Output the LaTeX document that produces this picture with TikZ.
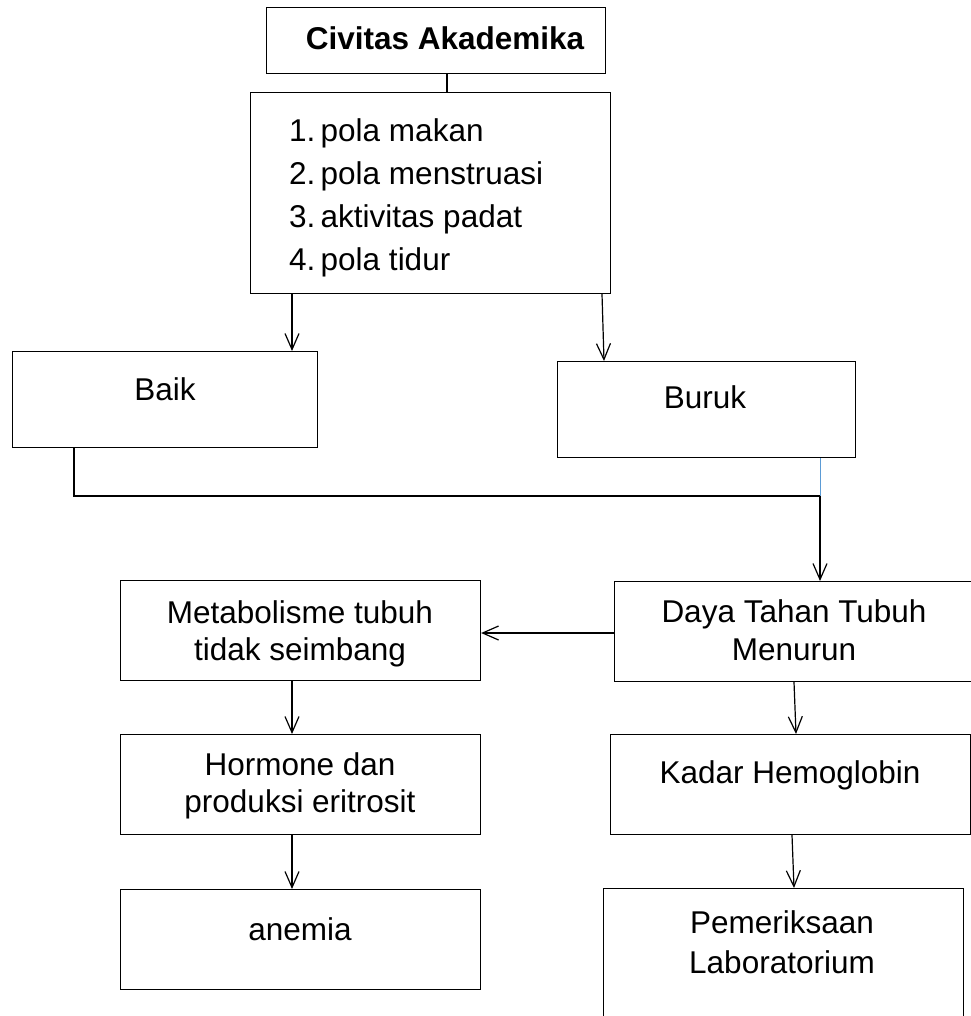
\documentclass[tikz,border=0pt]{standalone}
\usepackage{fontspec}
\setmainfont{Liberation Sans}
\usetikzlibrary{arrows.meta}
\definecolor{wordblue}{HTML}{5B9BD5}
\begin{document}
\begin{tikzpicture}[x=1pt,y=-1pt,
  box/.style={draw=black, line width=1.1pt, inner sep=0pt, anchor=north west},
  txt/.style={anchor=base, inner sep=0pt, font=\fontsize{31.5}{37}\selectfont},
  arr/.style={-{Straight Barb[length=16pt,width=14pt,line width=1.2pt]}, line width=1.2pt},
  conn/.style={line width=1.2pt}]
\useasboundingbox (0,0) rectangle (970,1016);

% boxes
\node[box, minimum width=339pt, minimum height=66pt]  (civ)    at (266,7)   {};
\node[box, minimum width=360pt, minimum height=201pt] (list)   at (250,92)  {};
\node[box, minimum width=305pt, minimum height=96pt]  (baik)   at (12,351)  {};
\node[box, minimum width=298pt, minimum height=96pt]  (buruk)  at (557,361) {};
\node[box, minimum width=360pt, minimum height=100pt] (metab)  at (120,580) {};
\node[box, minimum width=364pt, minimum height=100pt] (daya)   at (614,581) {};
\node[box, minimum width=360pt, minimum height=100pt] (horm)   at (120,734) {};
\node[box, minimum width=360pt, minimum height=100pt] (kadar)  at (610,734) {};
\node[box, minimum width=360pt, minimum height=100pt] (anemia) at (120,889) {};
\node[box, minimum width=360pt, minimum height=140pt] (pem)    at (603,888) {};

% texts
\node[txt, font=\fontsize{31.5}{37}\selectfont\bfseries] (tciv) at (445,50) {Civitas Akademika};
\node[txt, anchor=base west] (tl1) at (289,142) {1.\,pola makan};
\node[txt, anchor=base west] (tl2) at (289,185) {2.\,pola menstruasi};
\node[txt, anchor=base west] (tl3) at (289,228) {3.\,aktivitas padat};
\node[txt, anchor=base west] (tl4) at (289,270) {4.\,pola tidur};
\node[txt] (tbaik)  at (165,400) {Baik};
\node[txt] (tburuk) at (705,408) {Buruk};
\node[txt] (tm1) at (300,623) {Metabolisme tubuh};
\node[txt] (tm2) at (300,660) {tidak seimbang};
\node[txt] (td1) at (794,622) {Daya Tahan Tubuh};
\node[txt] (td2) at (794,660) {Menurun};
\node[txt] (th1) at (300,775) {Hormone dan};
\node[txt] (th2) at (300,812) {produksi eritrosit};
\node[txt] (tk)  at (790,783) {Kadar Hemoglobin};
\node[txt] (ta)  at (300,940) {anemia};
\node[txt] (tp1) at (782,933) {Pemeriksaan};
\node[txt] (tp2) at (782,973) {Laboratorium};

% connectors
\draw[conn] (447,0 |- civ.south) -- (447,0 |- list.north);
\draw[arr] (292,0 |- list.south) -- (292,0 |- baik.north);
\draw[arr] (602,0 |- list.south) -- (604,0 |- buruk.north);
\coordinate (join) at (820,496);
\coordinate (joinL) at (73,496);
\draw[conn] (74,0 |- baik.south) -- (74,496);
\draw[line width=2.4pt] (joinL) -- (join);
\draw[wordblue, line width=1pt] (820,0 |- buruk.south) -- (join);
\draw[arr] (join) -- (820,0 |- daya.north);
\draw[arr] (daya.west |- 0,633) -- (metab.east |- 0,633);
\draw[arr] (292,0 |- metab.south) -- (292,0 |- horm.north);
\draw[arr] (292,0 |- horm.south) -- (292,0 |- anemia.north);
\draw[arr] (794,0 |- daya.south) -- (796,0 |- kadar.north);
\draw[arr] (792,0 |- kadar.south) -- (794,0 |- pem.north);
\end{tikzpicture}
\end{document}
